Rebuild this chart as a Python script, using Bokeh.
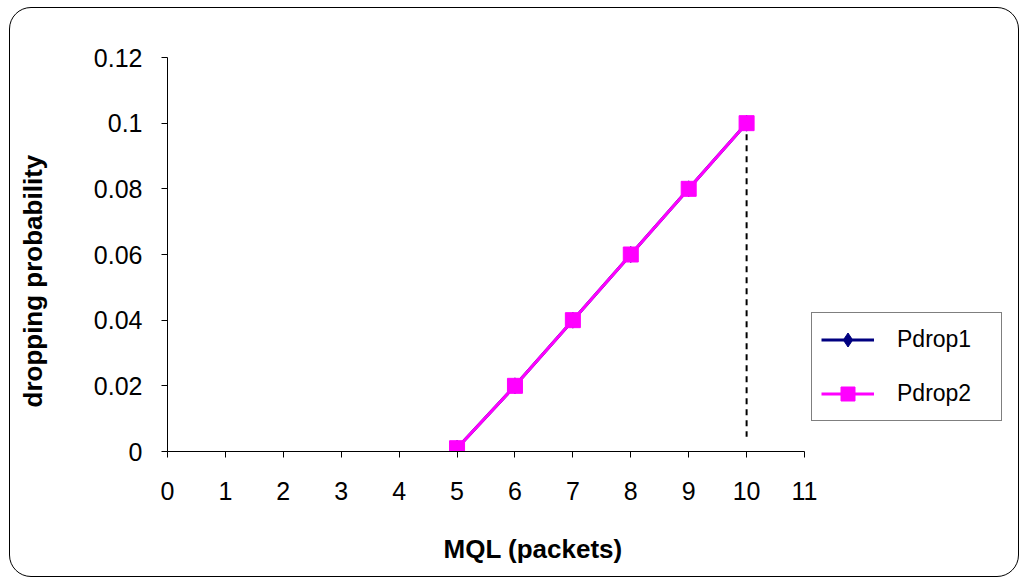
from bokeh.plotting import figure
from bokeh.models import (FixedTicker, NumeralTickFormatter, Legend, LegendItem,
                          ColumnDataSource, InlineStyleSheet, Title, LinearAxis)
from bokeh.embed import file_html
from bokeh.resources import INLINE

# ---- data ----
mql = [5, 6, 7, 8, 9, 10]
pdrop1 = [0.001, 0.02, 0.04, 0.06, 0.08, 0.1]
pdrop2 = [0.001, 0.02, 0.04, 0.06, 0.08, 0.1]
max_x = [10, 10]
max_y = [0.1, 0.0045]
x_ticks = [0, 1, 2, 3, 4, 5, 6, 7, 8, 9, 10, 11]
y_ticks = [0, 0.02, 0.04, 0.06, 0.08, 0.1, 0.12]

FONT = "Liberation Sans"

# the plotting frame is widened to the right (x axis line limited to 0..11)
# so that the legend can sit inside the frame without being clipped
p = figure(width=1022, height=579, output_backend="svg", toolbar_location=None,
           x_range=(0, 14.557), y_range=(0, 0.12),
           min_border_left=167, min_border_right=12, min_border_top=57,
           min_border_bottom=128)
p.outline_line_color = None
p.xgrid.visible = False
p.ygrid.visible = False
p.background_fill_color = "white"
p.border_fill_color = "white"

for ax in (p.xaxis[0], p.yaxis[0]):
    ax.axis_line_color = "black"
    ax.axis_line_width = 1
    ax.major_tick_line_color = "black"
    ax.major_tick_out = 6
    ax.major_tick_in = 0
    ax.minor_tick_line_color = None
    ax.major_label_text_font = FONT
    ax.major_label_text_font_size = "25px"
    ax.major_label_text_color = "black"

p.xaxis.bounds = (0, 11)
p.xaxis.ticker = FixedTicker(ticks=x_ticks)
p.yaxis.ticker = FixedTicker(ticks=y_ticks)
p.yaxis.formatter = NumeralTickFormatter(format="0.[00]")
p.xaxis.major_label_standoff = 24
p.yaxis.major_label_standoff = 19


def spacer(size, at):
    # a blank axis (one white tick on white, empty label, no line) used only
    # to reserve space between the tick labels and the title
    return LinearAxis(ticker=FixedTicker(ticks=[at]), axis_line_color=None,
                      major_tick_line_color="white", minor_tick_line_color=None,
                      major_tick_out=size, major_tick_in=0, minor_tick_out=0,
                      minor_tick_in=0, major_label_standoff=0,
                      major_label_overrides={at: ""})


p.add_layout(spacer(40, 0.06), "left")
ytitle = Title(text="dropping probability", align="left", offset=44, standoff=6,
               text_font=FONT, text_font_size="26px", text_font_style="bold",
               text_color="black")
p.add_layout(ytitle, "left")

p.add_layout(spacer(26, 13), "below")
xtitle = Title(text="MQL (packets)", align="left", offset=276, standoff=6,
               text_font=FONT, text_font_size="26px", text_font_style="bold",
               text_color="black")
p.add_layout(xtitle, "below")

src = ColumnDataSource(dict(x=mql, y1=pdrop1, y2=pdrop2))

p.line(x=max_x, y=max_y, line_color="black", line_width=2, line_dash="6 5")

l1 = p.line("x", "y1", source=src, line_color="#000080", line_width=3)
m1 = p.scatter("x", "y1", source=src, marker="diamond", size=16,
               fill_color="#000080", line_color="#000080")
l2 = p.line("x", "y2", source=src, line_color="#FF00FF", line_width=3)
m2 = p.scatter("x", "y2", source=src, marker="square", size=15,
               fill_color="#FF00FF", line_color="#FF00FF")

legend = Legend(items=[LegendItem(label="Pdrop1", renderers=[l1, m1]),
                       LegendItem(label="Pdrop2", renderers=[l2, m2])],
                location=(644, 30), orientation="vertical",
                padding=9, spacing=19, glyph_height=35, glyph_width=53,
                label_height=35, label_width=95, label_standoff=23,
                label_text_font=FONT, label_text_font_size="23px",
                label_text_color="black",
                border_line_color="black", border_line_width=1,
                background_fill_color="white", background_fill_alpha=1,
                margin=0)
p.add_layout(legend, "center")

# rounded outer chart border (drawn by CSS on the figure's host element)
p.stylesheets = [InlineStyleSheet(css="""
:host { position: relative; }
:host::after {
  content: "";
  position: absolute;
  left: 9px; top: 7px;
  width: 1010px; height: 570px;
  border: 1px solid black;
  border-radius: 22px;
  box-sizing: border-box;
  pointer-events: none;
}
""")]

open("out.html", "w").write(file_html(p, INLINE))
